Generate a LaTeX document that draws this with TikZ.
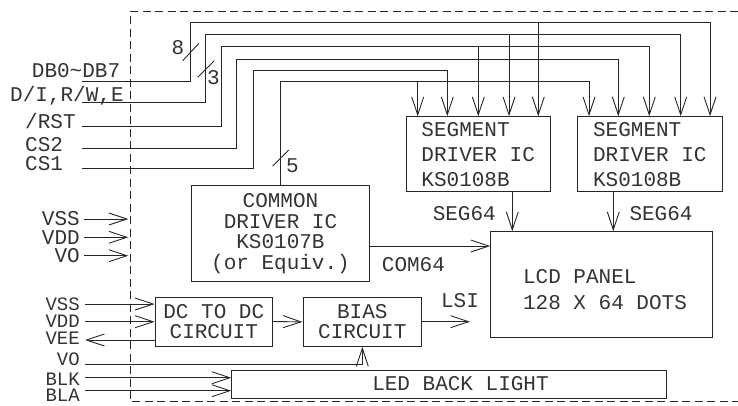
\documentclass[tikz,border=0pt]{standalone}
\usepackage{fontspec}
\setmainfont{Liberation Mono}
\usetikzlibrary{arrows.meta}
\begin{document}
\begin{tikzpicture}[x=1pt,y=-1pt,
  ln/.style={line width=0.9pt, draw=black!85},
  arr/.style={ln, -{Straight Barb[length=18pt,width=12pt]}},
  box/.style={ln, rectangle, inner sep=0pt, text=black!80},
  lbl/.style={inner sep=0pt, font=\fontsize{21}{25}\selectfont, text height=13.8pt, text depth=0pt, text=black!80},
  slbl/.style={inner sep=0pt, font=\fontsize{19}{22}\selectfont, text height=12.4pt, text depth=0pt, text=black!80},
]
\useasboundingbox (0,0) rectangle (738,405);
% frame
\draw[ln, dash pattern=on 8pt off 4.5pt] (738,11.7) -- (130,11.7) -- (130,401.5) -- (738,401.5);
% boxes
\node[box, minimum width=144.3pt, minimum height=75pt, align=left, font=\fontsize{21}{25}\selectfont] (seg1) at (478.2,154.2) {SEGMENT\\DRIVER IC\\KS0108B};
\node[box, minimum width=145pt, minimum height=75pt, align=left, font=\fontsize{21}{25}\selectfont] (seg2) at (649.8,154.2) {SEGMENT\\DRIVER IC\\KS0108B};
\node[box, minimum width=177.6pt, minimum height=96pt, align=center, font=\fontsize{21}{20.5}\selectfont] (common) at (280.5,233.7) {COMMON\\DRIVER IC\\KS0107B\\(or Equiv.)};
\node[box, minimum width=221.6pt, minimum height=106pt] (lcd) at (601.5,284.7) {};
\node[align=left, inner sep=0pt, text=black!80, font=\fontsize{21}{26}\selectfont] (lcdtext) at (605,289.4) {LCD PANEL\\128 X 64 DOTS};
\node[box, minimum width=117.7pt, minimum height=49pt, align=center, font=\fontsize{21}{19.5}\selectfont] (dc) at (213.8,321.5) {DC TO DC\\CIRCUIT};
\node[box, minimum width=118.7pt, minimum height=49pt, align=center, font=\fontsize{21}{20}\selectfont] (bias) at (362.3,321.9) {BIAS\\CIRCUIT};
\node[box, minimum width=434.8pt, minimum height=27.3pt] (led) at (449.1,384.3) {};
\node[lbl] (ledtext) at (460.5,383.8) {LED BACK LIGHT};
% input labels
\node[lbl, anchor=west] (ldb) at (31.7,70.3) {DB0\textasciitilde DB7};
\node[lbl, anchor=west] (ldi) at (10,95) {D/I,R/W,E};
\node[lbl, anchor=west] (lrst) at (25,122) {/RST};
\node[lbl, anchor=west] (lcs2) at (25,144.5) {CS2};
\node[lbl, anchor=west] (lcs1) at (25,163.5) {CS1};
\node[lbl, anchor=east] (lvss1) at (80,219) {VSS};
\node[lbl, anchor=east] (lvdd1) at (80,237.5) {VDD};
\node[lbl, anchor=east] (lvo1) at (80,255.8) {VO};
\node[slbl, anchor=east] (lvss2) at (80,304.5) {VSS};
\node[slbl, anchor=east] (lvdd2) at (80,321.5) {VDD};
\node[slbl, anchor=east] (lvee) at (80,338) {VEE};
\node[slbl, anchor=east] (lvo2) at (80,359.5) {VO};
\node[slbl, anchor=east] (lblk) at (80,379.5) {BLK};
\node[slbl, anchor=east] (lbla) at (80,395.5) {BLA};
% other labels
\node[lbl, anchor=east] (lseg1) at (496,213.3) {SEG64};
\node[lbl, anchor=west] (lseg2) at (629.3,213.3) {SEG64};
\node[lbl, anchor=west] (lcom) at (381.7,265) {COM64};
\node[lbl] (llsi) at (460,300.7) {LSI};
\node[lbl] (n8) at (178,48) {8};
\node[lbl] (n3) at (213.3,77.5) {3};
\node[lbl] (n5) at (292.5,165.8) {5};
% coordinates
\coordinate (iDB) at (82.3,81);
\coordinate (iDI) at (82.3,102.7);
\coordinate (iRST) at (82.3,126);
\coordinate (iCS2) at (82.3,148.3);
\coordinate (iCS1) at (82.3,168.3);
\coordinate (frameL) at (128.3,0);
\coordinate (pVSS1) at (84,219);
\coordinate (pVDD1) at (84,237.3);
\coordinate (pVO1) at (84,255.7);
\coordinate (pVSS2) at (85,304);
\coordinate (pVDD2) at (85,321.7);
\coordinate (pVEE) at (85,340);
\coordinate (pVO2) at (85,364.3);
\coordinate (pBLK) at (85,377.7);
\coordinate (pBLA) at (85,390.7);
\coordinate (lsiEnd) at (470,321.7);
% bus lines
\draw[arr] (iDB) -| (190.7,22.3) -| (710,0 |- seg2.north);
\draw[arr] (538.3,22.3) -- (538.3,0 |- seg1.north);
\draw[arr] (iDI) -| (205.7,34.3) -| (680.7,0 |- seg2.north);
\draw[arr] (509,34.3) -- (509,0 |- seg1.north);
\draw[arr] (iRST) -| (221.3,46.7) -| (649.3,0 |- seg2.north);
\draw[arr] (478.3,46.7) -- (478.3,0 |- seg1.north);
\draw[arr] (iCS2) -| (236.7,59) -| (618.3,0 |- seg2.north);
\draw[arr] (iCS1) -| (253.3,70) -| (447.3,0 |- seg1.north);
\draw[arr] (common.north) |- (589,81) -- (589,0 |- seg2.north);
\draw[arr] (417.7,81) -- (417.7,0 |- seg1.north);
% bus slashes
\draw[ln] (182.7,60.7) -- (199,43.3);
\draw[ln] (197.7,77.3) -- (214.3,60.7);
\draw[ln] (272.7,166) -- (288.7,150);
% power inputs
\draw[arr] (pVSS1) -- (pVSS1 -| frameL);
\draw[arr] (pVDD1) -- (pVDD1 -| frameL);
\draw[arr] (pVO1) -- (pVO1 -| frameL);
\draw[arr] (pVSS2) -- (pVSS2 -| dc.west);
\draw[arr] (pVDD2) -- (pVDD2 -| dc.west);
\draw[arr] (pVEE -| dc.west) -- (pVEE);
\draw[arr] (pVO2) -| (bias.south);
\draw[arr] (pBLK) -- (pBLK -| led.west);
\draw[arr] (pBLA) -- (pBLA -| led.west);
% internal
\draw[arr] (dc.east) -- (bias.west);
\draw[arr] (bias.east |- lsiEnd) -- (lsiEnd);
\draw[arr] (common.east |- 0,246) -- (lcd.west |- 0,246);
\draw[arr] (512.3,0 |- seg1.south) -- (512.3,0 |- lcd.north);
\draw[arr] (613.3,0 |- seg2.south) -- (613.3,0 |- lcd.north);
\end{tikzpicture}
\end{document}
